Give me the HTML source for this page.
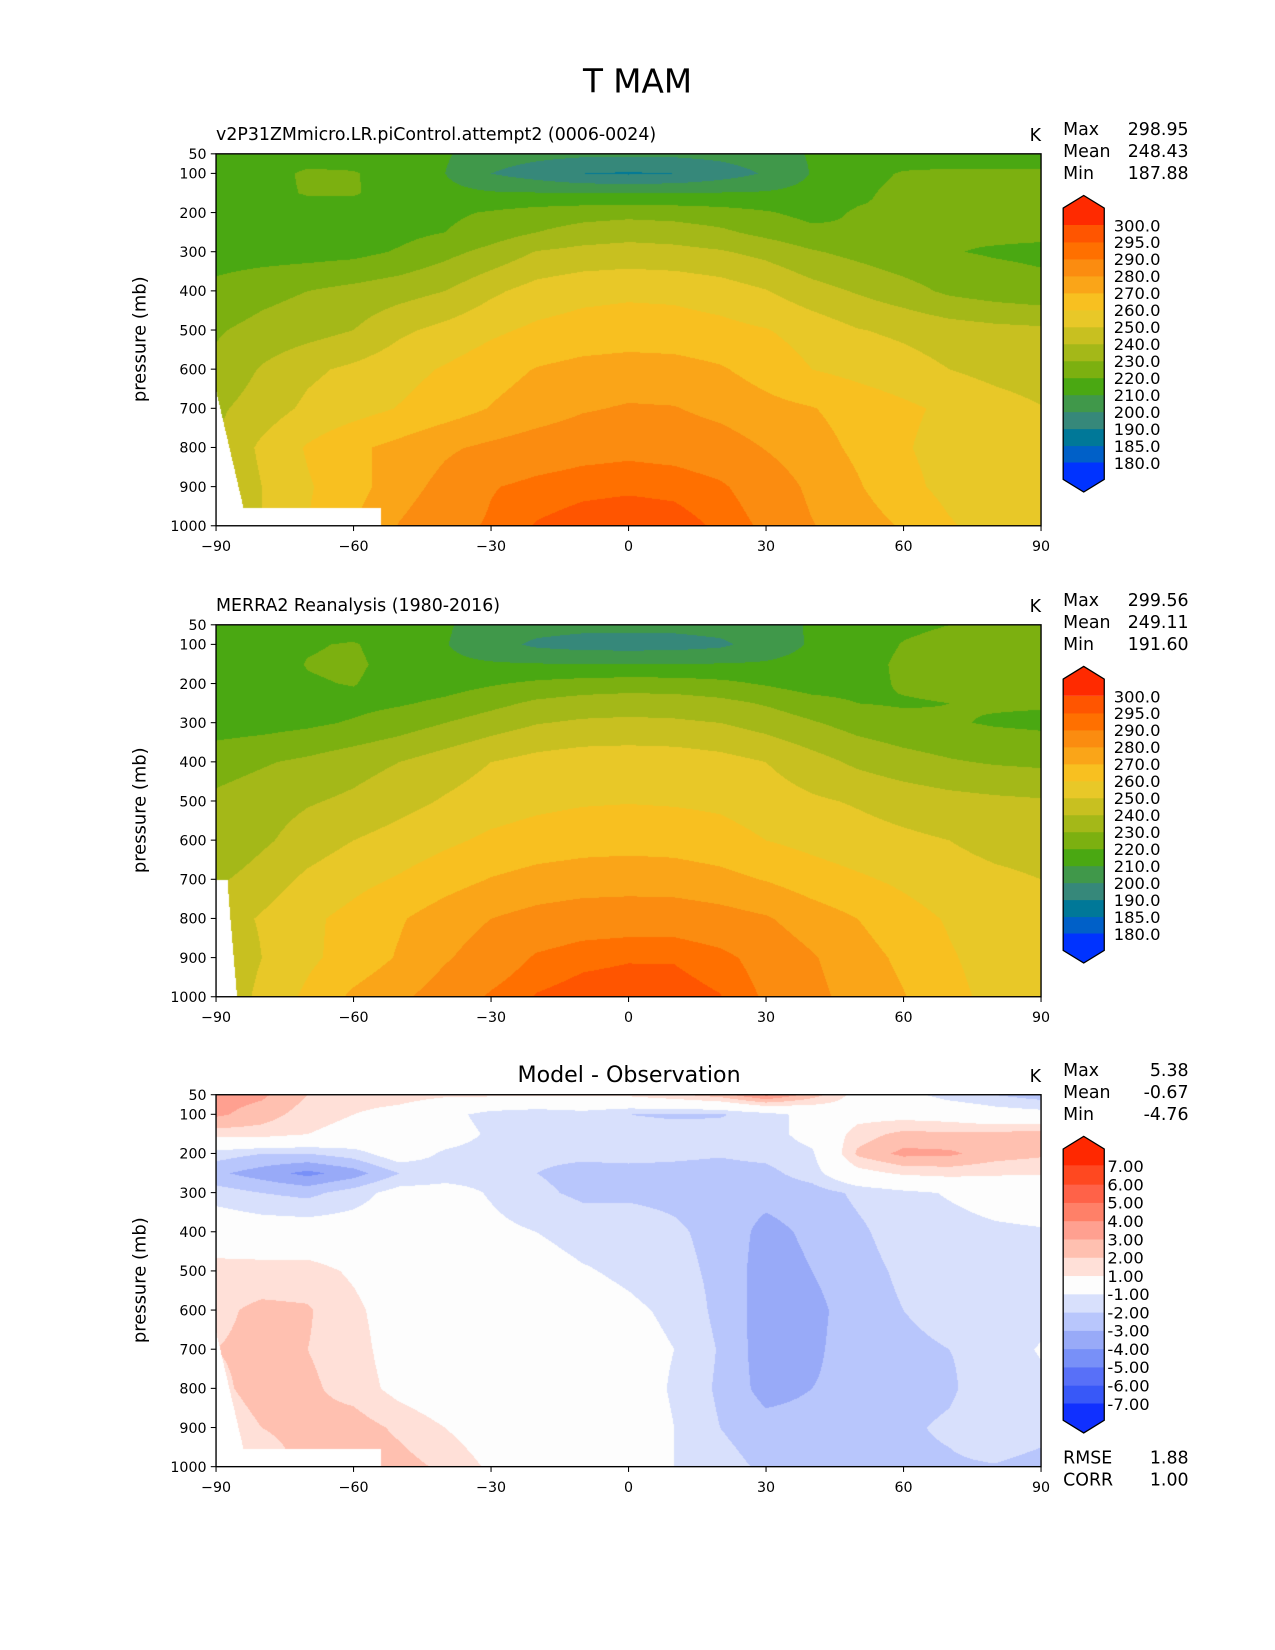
<!DOCTYPE html>
<html><head><meta charset="utf-8">
<style>
html,body{margin:0;padding:0;background:#fff;}
#wrap{position:relative;width:1275px;height:1650px;overflow:hidden;background:#fff;}
canvas{position:absolute;}
svg{position:absolute;left:0;top:0;}
text{font-family:"DejaVu Sans","Liberation Sans",sans-serif;fill:#000;}
</style></head>
<body>
<div id="wrap">
<canvas id="c1"></canvas>
<canvas id="c2"></canvas>
<canvas id="c3"></canvas>
<svg id="svg" width="1275" height="1650" viewBox="0 0 1210 1566">
<text x="605" y="88" font-size="31" text-anchor="middle">T MAM</text>
<g id="axes"></g>
</svg>
</div>
<script>
const lats=[-90,-80,-70,-60,-50,-40,-30,-20,-10,0,10,20,30,40,50,60,70,80,90];
const plevs=[50,100,150,200,250,300,400,500,600,700,800,900,1000];
const modelT=[
[212,213,214,214,213,211,205,203,202,202,202,203,205,211,213,214,214,214,214],
[212,215,222,221,214,210,200,195,190,189,190,195,201,210.5,216,221,222,222,222],
[213,216,221,221,215,213,211,210.5,210,210,210,210.5,211,213,218,223,224,224,224],
[213,214,214,214.5,216,218,221,224,226,227,226,224,221,217,221,221,223,223,223],
[213,213,214,215,217,220,225,230,234,236,235,232,227,222.5,220.5,221,221,222,222],
[215,215.5,216,217,221,227,233,240.5,243,244,243,241,237,231,227,223,220.5,219,218],
[223,227,230,233,236,240,248,254,257,258,257.5,255,250.5,244,239,234,228,225,223],
[229,233,236,240,248,253,258,262,264,265,264.5,263,260.5,256,250.5,248,245,243,242],
[232,241,248,252,256.5,261,266,270.5,273,274,273.5,271,266,260,257,254,250,247,245],
[238,245,252,256,260.5,265,270.5,275,279,281,280.5,277,273,270.5,266,262,258,254,250.5],
[240,252,261,268,273,278.5,282,285,287,288,287,285,279.5,274,268,261,256,252,251],
[238,250,259,266,276,283,289.5,292,293.5,294,293.5,291,286,278,271,263,257,253,251],
[240,250,260,270,280.5,287,291,295.5,297.5,298.5,297.5,294,288.5,280.5,275,269,261,256,254]];
const obsT=[
[212,212,213,214,213,211,206,204,203,203,203,204,206,211,214,218,220,221,221],
[212,214,219,221,214,210.5,204,198,196,195.5,196,198,205,211,215,220.5,223,223,223],
[213,215,220.5,222,216,212,211,210.5,210,210,210,210.5,211,213,216,222,224,224,224],
[213,214,219,220.5,215,216,219,222,224,225,224.5,222.5,219,215,216,221.5,223,222,221],
[213,214,215,217,219,222,227,232,234.5,235.5,235,233,229,224,220,219,220,221,221],
[215,216,218,221,225,230,235,239.5,241.5,242,241.5,240,236,231,226,223,221,219,218],
[226,229,232,236,240,245,250,253.5,255.5,256,255.5,253.5,250,244,238,234,231,229,228],
[232,235,239,242,246.5,251,255,257.5,259,259.5,259,258,255,251.5,249,246,243.5,242,241],
[230,238,245,250,254,258,262,264.5,266,266.5,266,264,260,257,254,252,250,247,246],
[238,245,252,257,261,266,270.5,273.5,275,275.5,275,273,269.5,265,261.5,258,254,252,250],
[245,251,258,263,269,275,280,283.5,285.5,286,286,284,281,275,270,264,259,255,252],
[240,250,258,264,271,279,285,291,293.5,294.5,294.5,292,287,281,274,268,261,256,254],
[240,253,262,272,278,285,291,295.5,297.5,298,297.5,295.3,289,283,276,270.5,263,257,255]];
const diffT=[
[3.5,3.2,2.0,1.5,1.5,1.2,1.2,1.1,1.1,1.2,1.8,2.5,4.2,2.5,0.5,-0.5,-1.5,-2,-2.5],
[3.2,2.5,1.5,1.0,0.5,-0.5,-1.5,-1.8,-1.5,-2,-2.2,-2.1,-1.5,-0.5,0.5,0.5,0.3,-0.3,-0.5],
[1.5,1.5,1.0,0.5,0,-0.3,-1.2,-1.7,-1.4,-1.3,-1.4,-1.5,-1.5,-0.5,1.5,2.3,2.2,2.3,2.5],
[-1.5,-2,-2,-1.5,-0.2,-1.2,-1.5,-1.8,-1.8,-1.7,-1.8,-1.9,-1.7,-1.2,2.2,3.3,3.2,2.5,2.2],
[-2.8,-3.5,-4.3,-3.5,-2,-1.5,-1.4,-2,-2.3,-2.3,-2.3,-2.4,-2.3,-1.5,0.5,1.2,1.4,1.2,1.1],
[-1.5,-2,-2.3,-1.5,-0.5,-0.5,-1.1,-1.8,-2.2,-2.2,-2.3,-2.6,-2.7,-2.5,-1.8,-1.3,-0.9,-0.5,-0.3],
[0,-0.2,-0.2,-0.3,-0.3,-0.5,-0.7,-1.0,-1.4,-1.4,-1.8,-2.4,-3.3,-2.8,-2.2,-1.5,-1.4,-1.2,-1.1],
[1.5,1.5,1.5,0.8,0,-0.3,-0.5,-0.5,-0.9,-1.2,-1.6,-2.3,-3.5,-3,-2.4,-1.8,-1.6,-1.4,-1.3],
[1.8,2.2,2.1,1.3,0.2,-0.2,-0.3,-0.3,-0.5,-0.8,-1.2,-2.3,-3.5,-3.3,-2.5,-2,-1.7,-1.5,-1.4],
[2,2.2,2,1.5,0.3,-0.1,-0.2,-0.3,-0.3,-0.6,-1.0,-2.1,-3.6,-3.2,-2.5,-2.2,-2.0,-1.6,-0.9],
[1.8,2.3,2.2,1.6,0.6,0,-0.2,-0.3,-0.3,-0.5,-1.1,-2.2,-3.4,-3.0,-2.7,-2.5,-2.2,-1.2,-1.3],
[1.5,2,2.3,2.5,1.8,1.0,0.2,-0.3,-0.3,-0.4,-1.0,-2.0,-2.6,-2.6,-2.4,-2.2,-1.8,-1,-1.5],
[1,1.5,2.2,2.6,2.4,1.8,0.8,0,-0.3,-0.5,-1.0,-1.6,-2.2,-2.5,-2.5,-2.3,-2.2,-2.1,-2.5]];
const tLevels=[180,185,190,200,210,220,230,240,250,260,270,280,290,295,300];
const tLabels=["180.0","185.0","190.0","200.0","210.0","220.0","230.0","240.0","250.0","260.0","270.0","280.0","290.0","295.0","300.0"];
const tColors=["#0033ff","#0060c8","#007898","#36887a","#40984a","#4aa812","#7cb010","#a4b818","#c8c020","#e8c828","#f8c020","#faa518","#fb8c10","#ff7000","#ff5500","#ff2a00"];
const dLevels=[-7,-6,-5,-4,-3,-2,-1,1,2,3,4,5,6,7];
const dLabels=["-7.00","-6.00","-5.00","-4.00","-3.00","-2.00","-1.00","1.00","2.00","3.00","4.00","5.00","6.00","7.00"];
const dColors=["#1030ff","#3858f8","#5870f8","#7890f8","#98aaf8","#b8c6fc","#d8e0fc","#fdfdfd","#ffe0d8","#ffc0b0","#ffa090","#ff8068","#ff6248","#ff4820","#ff2800"];
const mask1Lat=[-90,-84,-54,-54,-90];
const mask1P=[653,954,954,1000,1000];
const mask2Lat=[-90,-87.5,-87,-85.4,-90];
const mask2P=[700,700,780,1000,1000];
const statsModel=["298.95","248.43","187.88"];
const statsObs=["299.56","249.11","191.60"];
const statsDiff=["5.38","-0.67","-4.76"];

const S=1275/1210;
const PL=205,PR=988,PW=783,PH=353;
const tops=[146,593,1039];
function xOf(lat){return PL+(lat+90)/180*PW;}
function yOf(p,top){return top+(p-50)/950*PH;}

function interp(grid,lat,p){
  let fi=(lat+90)/10; let i0=Math.min(17,Math.max(0,Math.floor(fi))); let fx=fi-i0;
  let j0=0; while(j0<plevs.length-2 && p>plevs[j0+1]) j0++;
  let fy=(p-plevs[j0])/(plevs[j0+1]-plevs[j0]); fy=Math.max(0,Math.min(1,fy));
  const a=grid[j0][i0],b=grid[j0][i0+1],c=grid[j0+1][i0],d=grid[j0+1][i0+1];
  return a*(1-fx)*(1-fy)+b*fx*(1-fy)+c*(1-fx)*fy+d*fx*fy;
}
function inPoly(x,y,xs,ys){let ins=false;for(let i=0,j=xs.length-1;i<xs.length;j=i++){if(((ys[i]>y)!=(ys[j]>y))&&(x<(xs[j]-xs[i])*(y-ys[i])/(ys[j]-ys[i])+xs[i]))ins=!ins;}return ins;}
function hex(c){return [parseInt(c.slice(1,3),16),parseInt(c.slice(3,5),16),parseInt(c.slice(5,7),16)];}
function colorIdx(v,levels){let i=0;while(i<levels.length&&v>=levels[i])i++;return i;}

function drawPanel(id,grid,top,levels,colors,mLat,mP){
  const cv=document.getElementById(id);
  const L=Math.round(PL*S),T=Math.round(top*S),W=Math.round((PL+PW)*S)-L,H=Math.round((top+PH)*S)-T;
  cv.style.left=L+'px';cv.style.top=T+'px';cv.width=W;cv.height=H;
  const ctx=cv.getContext('2d');const img=ctx.createImageData(W,H);const rgb=colors.map(hex);
  for(let y=0;y<H;y++){const p=50+(y+0.5)/H*950;
    for(let x=0;x<W;x++){const lat=-90+(x+0.5)/W*180;const k=(y*W+x)*4;
      let c;
      if(inPoly(lat,p,mLat,mP)) c=[255,255,255]; else c=rgb[colorIdx(interp(grid,lat,p),levels)];
      img.data[k]=c[0];img.data[k+1]=c[1];img.data[k+2]=c[2];img.data[k+3]=255;}}
  ctx.putImageData(img,0,0);
}
drawPanel('c1',modelT,tops[0],tLevels,tColors,mask1Lat,mask1P);
drawPanel('c2',obsT,tops[1],tLevels,tColors,mask2Lat,mask2P);
drawPanel('c3',diffT,tops[2],dLevels,dColors,mask1Lat,mask1P);

const NS="http://www.w3.org/2000/svg";
const g=document.getElementById('axes');
function mk(tag,attrs,txt){const e=document.createElementNS(NS,tag);for(const k in attrs)e.setAttribute(k,attrs[k]);if(txt!==undefined)e.textContent=txt;g.appendChild(e);return e;}
const xTicks=[-90,-60,-30,0,30,60,90];
const xTickLabels=["\u221290","\u221260","\u221230","0","30","60","90"];
const yTicks=[50,100,200,300,400,500,600,700,800,900,1000];
const titles=["v2P31ZMmicro.LR.piControl.attempt2 (0006-0024)","MERRA2 Reanalysis (1980-2016)",""];
const stats=[statsModel,statsObs,statsDiff];
const statNames=["Max","Mean","Min"];
for(let n=0;n<3;n++){
  const top=tops[n];
  const fr=mk('rect',{x:PL,y:top,width:PW,height:PH,fill:'none',stroke:'#000','stroke-width':1.3});
  
  
  for(let i=0;i<xTicks.length;i++){const x=xOf(xTicks[i]);
    const t=mk('line',{x1:x,x2:x,y1:top+PH,y2:top+PH+5,stroke:'#000','stroke-width':1});
    
    
    const l=mk('text',{x:x,y:top+PH+24,'font-size':13.5,'text-anchor':'middle'},xTickLabels[i]);
    
    }
  for(const p of yTicks){const y=yOf(p,top);
    const t=mk('line',{x1:PL-5,x2:PL,y1:y,y2:y,stroke:'#000','stroke-width':1});
    
    
    const l=mk('text',{x:PL-9,y:y+5,'font-size':13.5,'text-anchor':'end'},String(p));
    
    }
  const yl=mk('text',{x:0,y:0,'font-size':17,'text-anchor':'middle',transform:'translate(138,'+(top+176)+') rotate(-90)'},'pressure (mb)');
  
  
  if(titles[n]){const tt=mk('text',{x:PL,y:top-13,'font-size':16.5},titles[n]);
    
    }
  else{const tt=mk('text',{x:597,y:top-12,'font-size':21,'text-anchor':'middle'},'Model - Observation');
    
    }
  const ku=mk('text',{x:988,y:top-12,'font-size':16.5,'text-anchor':'end'},'K');
  
  
  for(let i=0;i<3;i++){
    const a=mk('text',{x:1009,y:top-18+i*21,'font-size':16.5},statNames[i]);
    
    
    const b=mk('text',{x:1128,y:top-18+i*21,'font-size':16.5,'text-anchor':'end'},stats[n][i]);
    
    }
  const off=top-146;
  const levels=n<2?tLevels:dLevels, colors=n<2?tColors:dColors, labs=n<2?tLabels:dLabels;
  const yTop=213.5+off,yBot=439+off,cx0=1009,cx1=1048;
  const nInt=levels.length-1, seg=(yBot-yTop)/nInt;
  for(let i=0;i<nInt;i++){
    const r=mk('rect',{x:cx0,y:yBot-(i+1)*seg,width:cx1-cx0,height:seg+0.5,fill:colors[i+1]});
    
    }
  const up=mk('polygon',{points:`${cx0},${yTop} ${cx0},${yTop-16} ${(cx0+cx1)/2},${yTop-28} ${cx1},${yTop-16} ${cx1},${yTop}`,fill:colors[colors.length-1]});
  
  
  const dn=mk('polygon',{points:`${cx0},${yBot} ${cx0},${yBot+16} ${(cx0+cx1)/2},${yBot+28} ${cx1},${yBot+16} ${cx1},${yBot}`,fill:colors[0]});
  
  
  const ol=mk('polygon',{points:`${cx0},${yTop-16} ${(cx0+cx1)/2},${yTop-28} ${cx1},${yTop-16} ${cx1},${yBot+16} ${(cx0+cx1)/2},${yBot+28} ${cx0},${yBot+16}`,fill:'none',stroke:'#000','stroke-width':1.2});
  
  
  for(let i=0;i<levels.length;i++){
    const tl=mk('text',{x:n<2?1057:1051,y:yBot-i*seg+6,'font-size':15.5},labs[i]);
    
    }
}
const r1=mk('text',{x:1009,y:1389,'font-size':16.5},'RMSE');


const r2=mk('text',{x:1128,y:1389,'font-size':16.5,'text-anchor':'end'},'1.88');


const r3=mk('text',{x:1009,y:1410,'font-size':16.5},'CORR');


const r4=mk('text',{x:1128,y:1410,'font-size':16.5,'text-anchor':'end'},'1.00');


</script>
</body></html>
